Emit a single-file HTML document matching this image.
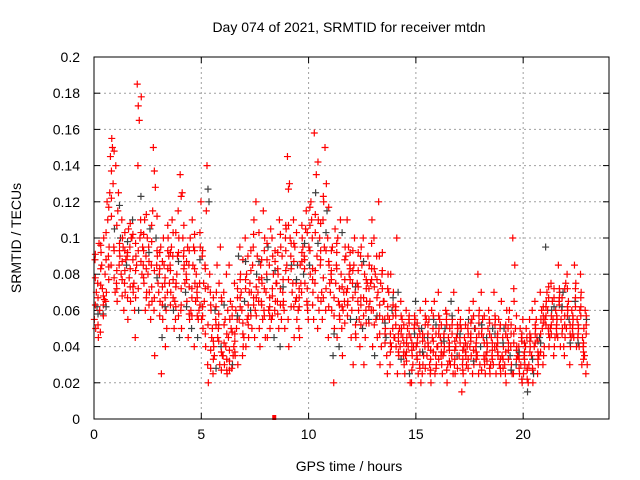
<!DOCTYPE html>
<html><head><meta charset="utf-8"><style>
body{margin:0;background:#fff}
svg{display:block;font-family:"Liberation Sans",sans-serif}
</style></head><body>
<svg id="chart" width="640" height="480" viewBox="0 0 640 480" xmlns="http://www.w3.org/2000/svg">
<text x="349" y="32" font-size="14" text-anchor="middle" fill="#000">Day 074 of 2021, SRMTID for receiver mtdn</text>
<text transform="translate(21,238) rotate(-90)" font-size="14" text-anchor="middle" fill="#000">SRMTID / TECUs</text>
<text x="349" y="471" font-size="14" text-anchor="middle" fill="#000">GPS time / hours</text>
<g id="grid"></g><g id="ticks"></g><g id="points"></g>
<rect x="94" y="57" width="515" height="362" fill="none" stroke="#000" stroke-width="1"/>
</svg>
<script>
const xTicks=[0,5,10,15,20];
const yTicks=[0,0.02,0.04,0.06,0.08,0.1,0.12,0.14,0.16,0.18,0.2];
const yTickLabels=["0","0.02","0.04","0.06","0.08","0.1","0.12","0.14","0.16","0.18","0.2"];
const binStarts=[];for(let i=0;i<92;i++)binStarts.push(i*0.25);
const binWidth=0.25;
// values in milli-TECU
const binValues=[
[55,70,45,88,62,97,50,75],[60,85,100,48,72,66,92,58],[80,120,95,65,110,125,70,90],[145,150,105,85,130,70,155,95],
[140,115,90,75,125,100,65,85],[80,95,70,110,60,88,100,75],[85,105,65,90,78,100,55,95],[100,75,90,110,60,85,70,45],
[185,165,178,140,100,80,60,110],[95,110,70,85,60,100,75,90],[80,105,65,95,55,115,70,85],[150,128,90,60,100,75,35,85],
[70,95,55,80,25,100,65,45],[85,60,100,75,50,90,40,70],[75,95,60,85,110,50,70,90],[65,80,100,55,90,45,75,115],
[135,125,85,60,100,75,50,90],[70,95,55,80,45,100,65,85],[60,85,75,50,95,65,110,40],[80,55,95,70,60,120,45,75],
[55,75,40,90,65,115,50,85],[140,120,60,30,80,45,20,70],[50,35,70,25,60,85,40,55],[45,30,65,50,95,35,75,40],
[35,55,25,70,40,60,30,80],[45,65,30,85,50,35,55,28],[40,60,30,75,50,90,35,55],[55,70,40,95,60,45,80,35],
[65,80,45,100,55,70,40,90],[75,50,110,60,85,45,70,95],[60,90,50,120,70,40,80,65],[85,55,100,65,115,45,75,60],
[70,95,50,80,60,105,45,85],[55,80,65,100,45,75,90,60],[75,50,95,65,110,55,80,40],[90,60,105,70,50,85,65,100],
[145,130,85,55,100,70,40,90],[75,95,55,110,65,85,45,75],[60,85,100,50,75,95,45,70],[80,105,60,90,115,55,75,65],
[95,120,70,85,110,55,80,100],[158,135,110,75,90,60,125,50],[100,70,120,85,55,95,65,110],[150,115,85,60,100,75,130,45],
[70,95,50,80,35,105,60,20],[75,100,55,85,65,110,45,40],[80,60,95,50,70,90,35,65],[70,95,55,110,80,45,65,85],
[60,85,45,75,100,55,30,70],[75,55,95,65,40,85,60,90],[50,80,65,100,45,75,30,60],[90,65,110,55,75,40,85,60],
[60,80,45,100,55,70,35,90],[120,75,55,90,40,65,30,80],[65,45,80,55,35,70,50,25],[55,40,70,30,60,45,80,50],
[45,100,35,60,25,50,40,70],[40,55,30,65,45,25,50,35],[35,50,25,60,40,20,45,55],[45,30,55,20,40,65,35,50],
[40,25,60,35,50,20,45,30],[50,35,65,25,45,55,30,40],[35,55,20,45,30,60,40,25],[45,65,30,50,25,40,55,35],
[40,55,30,70,45,25,50,35],[35,50,20,45,60,30,40,55],[45,30,55,40,65,25,50,35],[70,40,50,30,45,60,25,35],
[35,50,25,45,15,40,55,30],[45,30,55,20,40,60,35,50],[40,55,30,45,25,50,35,65],[50,35,60,40,80,30,45,25],
[40,55,30,70,45,25,50,35],[35,50,25,45,60,30,40,55],[45,30,55,35,70,25,50,40],[40,55,25,45,30,65,35,50],
[35,50,20,45,30,60,40,25],[45,60,30,50,35,25,55,40],[100,85,40,25,50,35,65,30],[35,50,20,40,30,55,25,45],
[25,40,15,35,50,20,30,45],[30,45,20,55,35,25,40,60],[40,55,30,65,45,35,50,25],[45,60,35,70,50,40,55,30],
[55,70,40,95,60,45,65,50],[50,65,40,75,55,45,60,35],[60,45,70,50,85,40,55,65],[55,70,45,60,40,75,50,35],
[50,65,40,80,55,45,60,30],[60,45,75,50,85,40,55,65],[55,40,70,45,60,30,50,80],[45,35,55,40,60,30,50,25]];
const binValues2=[
[63,52,78,67,91,58],[74,57,83,68,96,63],[88,77,103,117,62,84],[122,93,112,78,137,148],
[107,93,82,118,72,97],[87,103,77,93,68,82],[92,73,98,83,67,108],[88,97,73,82,102,67],
[173,123,93,87,72,103],[102,83,93,67,78,113],[92,73,87,107,63,98],[137,112,82,93,67,78],
[83,63,92,73,57,87],[78,93,67,83,62,107],[82,67,92,77,63,103],[73,92,62,87,103,57],
[123,93,72,83,63,107],[87,73,62,93,77,58],[72,93,57,83,67,102],[67,88,57,103,73,63],
[62,83,57,72,93,47],[127,63,52,38,73,28],[43,62,33,52,67,28],[52,37,58,27,43,67],
[42,33,52,27,63,47],[38,57,32,48,27,62],[47,67,37,57,43,72],[62,47,77,53,67,88],
[72,57,87,63,77,52],[82,63,93,67,57,102],[73,87,57,103,67,77],[78,93,63,72,88,57],
[77,62,88,67,97,57],[68,87,57,93,72,82],[83,63,92,72,58,102],[77,93,63,107,73,82],
[127,97,77,62,107,83],[87,67,97,77,62,103],[72,92,62,87,67,107],[88,72,97,63,83,103],
[107,83,93,63,117,77],[113,97,82,67,103,142],[93,78,108,67,88,123],[103,87,72,117,93,62],
[82,67,93,57,77,47],[92,63,83,72,97,57],[73,88,62,77,103,53],[63,83,72,92,57,77],
[67,52,82,73,93,47],[82,63,73,52,92,67],[67,53,87,72,57,77],[72,83,62,97,53,77],
[73,57,83,67,52,77],[63,82,47,72,57,92],[53,62,42,72,47,57],[47,63,37,57,42,67],
[52,43,62,37,57,47],[47,37,57,42,33,52],[42,53,32,47,37,57],[38,52,27,47,42,57],
[33,47,42,28,53,37],[43,52,37,28,47,57],[42,33,52,38,47,27],[37,52,43,28,57,47],
[47,37,57,42,33,52],[43,52,37,27,47,58],[38,47,32,52,42,57],[43,52,33,47,38,28],
[42,33,52,38,47,27],[37,47,42,28,52,33],[47,38,53,32,43,57],[42,53,33,47,37,57],
[47,33,52,42,27,57],[42,53,37,47,32,28],[38,47,33,52,42,57],[47,33,42,52,37,28],
[42,52,33,47,28,37],[38,47,33,52,42,27],[72,57,42,33,47,38],[28,43,33,47,37,22],
[33,27,42,22,37,28],[37,28,43,33,47,27],[42,33,47,37,52,43],[47,53,42,57,37,62],
[62,47,57,73,52,67],[57,62,47,67,52,72],[52,63,57,72,47,67],[62,52,67,57,47,72],
[57,47,62,52,72,42],[52,62,57,67,47,72],[47,57,52,62,42,67],[42,52,37,47,33,57]];
const zeroTimes=[8.4];
const NS="http://www.w3.org/2000/svg";
const X0=94,X1=609,XMAX=24,Y0=419,Y1=57,YMAX=0.2;
function xs(t){return X0+(X1-X0)*t/XMAX;}
function ys(v){return Y0-(Y0-Y1)*v/YMAX;}
function mk(tag,attrs,parent){const e=document.createElementNS(NS,tag);for(const k in attrs)e.setAttribute(k,attrs[k]);parent.appendChild(e);return e;}
const grid=document.getElementById('grid'),ticks=document.getElementById('ticks'),pts=document.getElementById('points');
xTicks.forEach((t,i)=>{
  const x=xs(t);
  if(t>0){const g=mk('line',{x1:x,x2:x,y1:Y1,y2:Y0,stroke:'#a0a0a0','stroke-dasharray':'2,3'},grid);
  
  }
  mk('line',{x1:x,x2:x,y1:Y0,y2:Y0-6,stroke:'#000'},ticks);
  mk('line',{x1:x,x2:x,y1:Y1,y2:Y1+6,stroke:'#000'},ticks);
  const l=mk('text',{x:x,y:Y0+20,'font-size':14,'text-anchor':'middle'},ticks);
  l.textContent=String(t);
  
  
});
yTicks.forEach((v,i)=>{
  const y=ys(v);
  if(v>0&&v<YMAX){const g=mk('line',{x1:X0,x2:X1,y1:y,y2:y,stroke:'#a0a0a0','stroke-dasharray':'2,3'},grid);
  
  }
  mk('line',{x1:X0,x2:X0+6,y1:y,y2:y,stroke:'#000'},ticks);
  mk('line',{x1:X1,x2:X1-6,y1:y,y2:y,stroke:'#000'},ticks);
  const l=mk('text',{x:X0-14,y:y+5,'font-size':14,'text-anchor':'end'},ticks);
  l.textContent=yTickLabels[i];
  
  
});
let n=0;
function plotSet(set,offset){
  set.forEach((row,b)=>{
    row.forEach((v,j)=>{
      const t=binStarts[b]+((j*3+offset)%row.length+0.5)*binWidth/row.length;
      const x=xs(t),y=ys(v/1000);
      const col=(n%11===4)?'#404040':'#ff0000';
      const p=mk('path',{d:`M${x-3.5},${y}h7M${x},${y-3.5}v7`,stroke:col,'stroke-width':1.2,fill:'none'},pts);
      
      
      n++;
    });
  });
}
plotSet(binValues,0);
plotSet(binValues2,1);
zeroTimes.forEach(t=>{
  const r=mk('rect',{x:xs(t)-2,y:ys(0)-4,width:4,height:5,fill:'#ff0000'},pts);
  
  
});
</script>
</body></html>
